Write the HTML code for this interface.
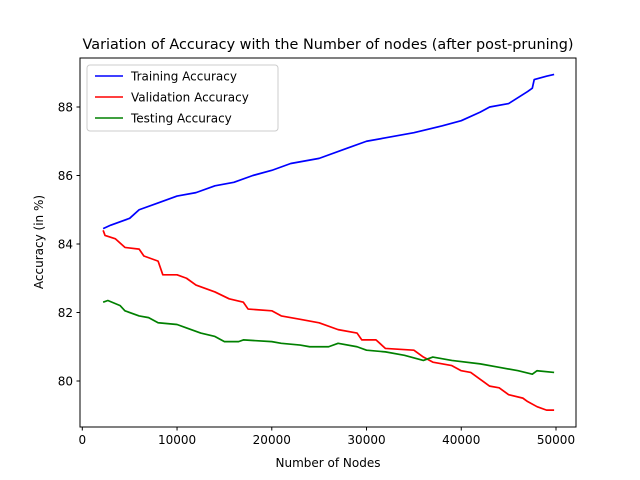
<!DOCTYPE html>
<html><head><meta charset="utf-8"><style>body{margin:0;background:#fff}svg{display:block;font-family:"DejaVu Sans","Liberation Sans",sans-serif}</style></head>
<body>
<svg id="chart" width="640" height="480">
<rect x="0" y="0" width="640" height="480" fill="#fff"/>
<text x="328" y="49" font-size="14.4" text-anchor="middle">Variation of Accuracy with the Number of nodes (after post-pruning)</text>
<g id="plot"></g>
<rect x="80" y="58" width="496" height="369" fill="none" stroke="#000" stroke-width="1"/>
<text x="328" y="467" font-size="12" text-anchor="middle">Number of Nodes</text>
<text transform="translate(43,242) rotate(-90)" font-size="12" text-anchor="middle">Accuracy (in %)</text>
<g>
<rect x="87" y="65" width="191" height="66" rx="3" fill="#fff" fill-opacity="0.8" stroke="#ccc"/>
<line x1="95" y1="76" x2="123" y2="76" stroke="blue" stroke-width="1.5"/>
<text x="131" y="80.5" font-size="12">Training Accuracy</text>
<line x1="95" y1="97" x2="123" y2="97" stroke="red" stroke-width="1.5"/>
<text x="131" y="101.5" font-size="12">Validation Accuracy</text>
<line x1="95" y1="118" x2="123" y2="118" stroke="green" stroke-width="1.5"/>
<text x="131" y="122.5" font-size="12">Testing Accuracy</text>
</g>
</svg>
<script>
const xTicks=[0,10000,20000,30000,40000,50000];
const yTicks=[80,82,84,86,88];
const trainX=[2200,3000,5000,6000,8000,10000,12000,14000,16000,18000,20000,22000,25000,28000,30000,32000,35000,38000,40000,42000,43000,45000,47000,47500,47700,49000,49800];
const trainY=[84.45,84.55,84.75,85.0,85.2,85.4,85.5,85.7,85.8,86.0,86.15,86.35,86.5,86.8,87.0,87.1,87.25,87.45,87.6,87.85,88.0,88.1,88.45,88.55,88.8,88.9,88.95];
const valX=[2200,2400,3500,4500,6000,6500,8000,8500,10000,11000,12000,14000,15500,17000,17500,20000,21000,23000,25000,27000,29000,29500,31000,32000,35000,36000,37000,39000,40000,41000,42000,43000,44000,45000,46500,47000,48000,49000,49800];
const valY=[84.4,84.25,84.15,83.9,83.85,83.65,83.5,83.1,83.1,83.0,82.8,82.6,82.4,82.3,82.1,82.05,81.9,81.8,81.7,81.5,81.4,81.2,81.2,80.95,80.9,80.7,80.55,80.45,80.3,80.25,80.05,79.85,79.8,79.6,79.5,79.4,79.25,79.15,79.15];
const testX=[2200,2700,4000,4500,6000,7000,8000,10000,11000,12500,14000,15000,16500,17000,20000,21000,23000,24000,26000,27000,29000,30000,32000,34000,36000,37000,39000,42000,44000,46000,47500,48000,49800];
const testY=[82.3,82.35,82.2,82.05,81.9,81.85,81.7,81.65,81.55,81.4,81.3,81.15,81.15,81.2,81.15,81.1,81.05,81.0,81.0,81.1,81.0,80.9,80.85,80.75,80.6,80.7,80.6,80.5,80.4,80.3,80.2,80.3,80.25];
const sx=v=>82.3+v*0.009474;
const sy=v=>381-(v-80)*34.25;
const NS='http://www.w3.org/2000/svg';
const g=document.getElementById('plot');
function mk(t,a){const e=document.createElementNS(NS,t);for(const k in a)e.setAttribute(k,a[k]);g.appendChild(e);return e;}
xTicks.forEach(v=>{
 const l=mk('line',{x1:sx(v),x2:sx(v),y1:427,y2:430.5,stroke:'#000'});
 
 
 const t=mk('text',{x:sx(v),y:444,'font-size':12,'text-anchor':'middle'});t.textContent=v;
 
 
});
yTicks.forEach(v=>{
 const l=mk('line',{x1:76.5,x2:80,y1:sy(v),y2:sy(v),stroke:'#000'});
 
 
 const t=mk('text',{x:73,y:sy(v)+4.5,'font-size':12,'text-anchor':'end'});t.textContent=v;
 
 
});
function series(xs,ys,c,name){
 let d='M'+sx(xs[0])+','+sy(ys[0]);
 for(let i=1;i<xs.length;i++){d+=' L'+sx(xs[i])+','+sy(ys[i]);}
 const p=mk('path',{d:d,fill:'none',stroke:c,'stroke-width':1.7,'stroke-linejoin':'round'});
 
 
}
series(trainX,trainY,'blue','training-accuracy-line');
series(valX,valY,'red','validation-accuracy-line');
series(testX,testY,'green','testing-accuracy-line');
</script>
</body></html>
